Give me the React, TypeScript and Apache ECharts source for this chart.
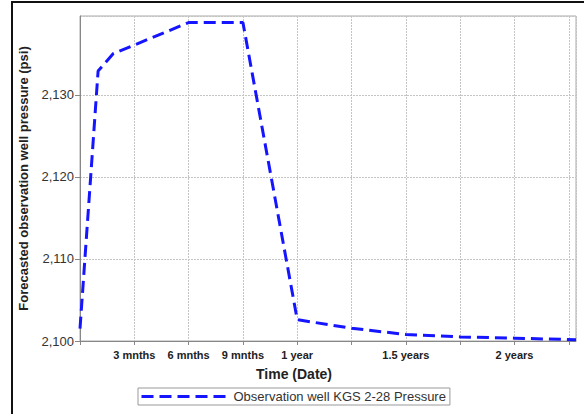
import React, { useEffect, useRef } from "react";
import * as echarts from "echarts";

const months = [0, 1.0, 1.83, 6, 9, 12, 15, 18, 21, 24, 27.4];
const pressure = [2101.5, 2132.9, 2135.0, 2138.8, 2138.8, 2102.6, 2101.55, 2100.8, 2100.5, 2100.35, 2100.15];
const xTickLabels: Record<number, string> = {
  3: "3 mnths",
  6: "6 mnths",
  9: "9 mnths",
  12: "1 year",
  18: "1.5 years",
  24: "2 years",
};
const yTicks = [2100, 2110, 2120, 2130];
const seriesName = "Observation well KGS 2-28 Pressure";

const FONT = "Liberation Sans, Arial, sans-serif";

export default function App() {
  const ref = useRef<HTMLDivElement>(null);
  useEffect(() => {
    if (!ref.current) return;
    const chart = echarts.init(ref.current, undefined, { renderer: "svg" });
    chart.setOption({
      animation: false,
      backgroundColor: "#fff",
      grid: {
        left: 80,
        top: 16,
        right: 8,
        bottom: 73,
        show: true,
        borderColor: "#aaa",
        borderWidth: 1,
      },
      legend: {
        left: 138,
        top: 388,
        padding: [2, 4, 2, 2],
        borderColor: "#999",
        borderWidth: 1,
        itemWidth: 86,
        itemHeight: 14,
        itemGap: 6,
        itemStyle: { color: "transparent", borderWidth: 0, opacity: 0 },
        lineStyle: { color: "#1515ff", width: 3, type: [12, 6], opacity: 1 },
        textStyle: { fontSize: 13, color: "#333", fontFamily: FONT, padding: [0, 0, 0, 1] },
        data: [seriesName],
      },
      graphic: [
        {
          type: "rect",
          shape: { x: 12, y: 2, width: 620, height: 460 },
          style: { fill: "none", stroke: "#111", lineWidth: 2 },
          silent: true,
        },
        {
          type: "text",
          x: 294,
          y: 374,
          style: {
            text: "Time (Date)",
            font: "bold 14px " + FONT,
            fill: "#222",
            align: "center",
            verticalAlign: "middle",
          },
        },
      ],
      xAxis: {
        type: "value",
        min: 0,
        max: 27.4,
        interval: 3,
        axisLine: { show: true, lineStyle: { color: "#888" } },
        axisTick: { show: true, length: 4, lineStyle: { color: "#888" } },
        splitLine: { show: true, lineStyle: { color: "#c4c4c4", type: [2, 1] } },
        axisLabel: {
          showMaxLabel: false,
          margin: 8,
          fontSize: 11,
          fontWeight: "bold",
          color: "#222",
          fontFamily: FONT,
          formatter: (v: number) => xTickLabels[Math.round(v * 100) / 100] ?? "",
        },
      },
      yAxis: {
        type: "value",
        min: 2100,
        max: 2139.6,
        interval: 10,
        name: "Forecasted observation well pressure (psi)",
        nameLocation: "middle",
        nameGap: 50,
        nameTextStyle: { fontSize: 13, fontWeight: "bold", color: "#222", fontFamily: FONT },
        axisLine: { show: true, lineStyle: { color: "#888" } },
        axisTick: { show: true, length: 5, lineStyle: { color: "#888" } },
        splitLine: { show: true, lineStyle: { color: "#c4c4c4", type: [2, 1] } },
        axisLabel: {
          showMaxLabel: false,
          margin: 6,
          fontSize: 13,
          color: "#333",
          fontFamily: FONT,
          formatter: (v: number) => (yTicks.includes(v) ? v.toLocaleString("en-US") : ""),
        },
      },
      series: [
        {
          name: seriesName,
          type: "line",
          showSymbol: false,
          symbol: "none",
          data: months.map((m, i) => [m, pressure[i]]),
          lineStyle: { color: "#1515ff", width: 3, type: [12, 6] },
          itemStyle: { color: "#1515ff" },
        },
      ],
    });
    return () => chart.dispose();
  }, []);
  return (
    <div
      ref={ref}
      style={{ position: "absolute", left: 0, top: 0, width: 584, height: 414 }}
    />
  );
}
